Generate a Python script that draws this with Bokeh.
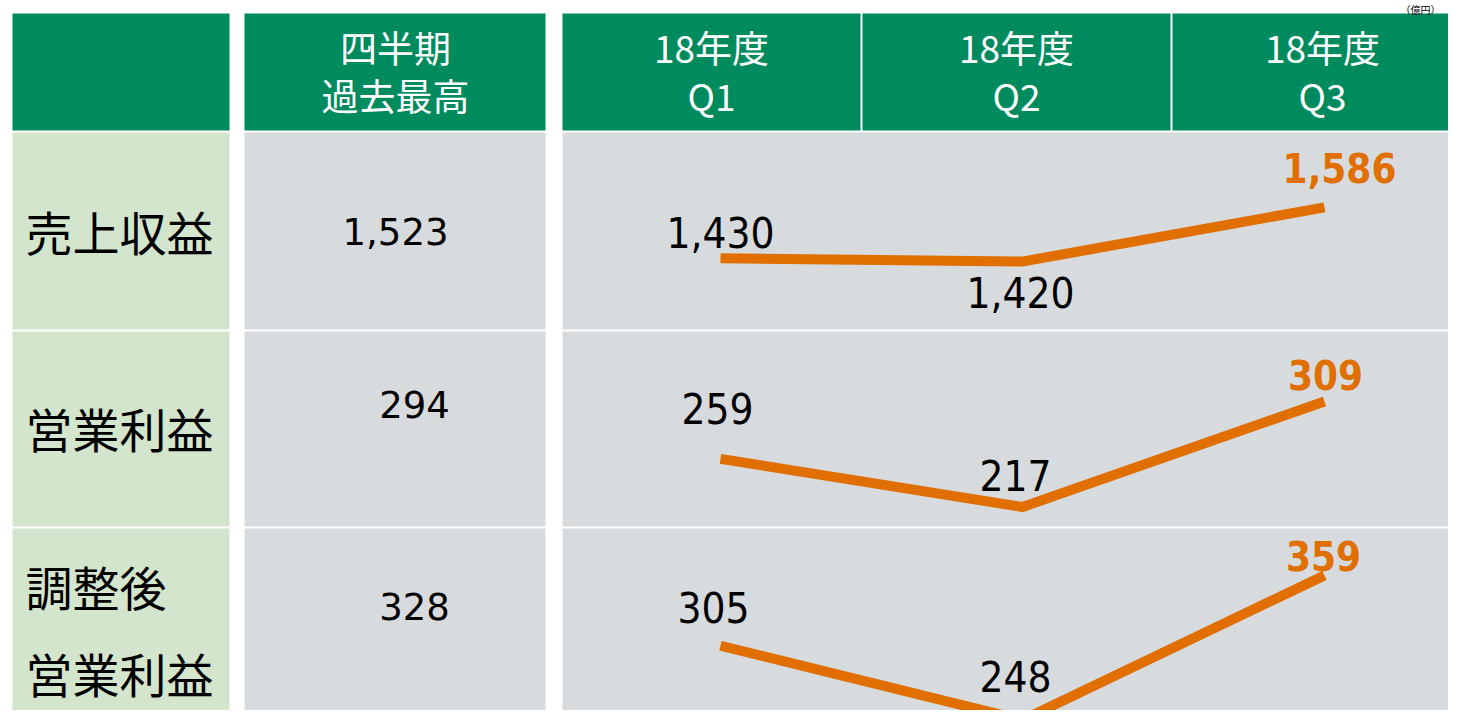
from bokeh.plotting import figure
from bokeh.models import Range1d, ColumnDataSource
from bokeh.core.properties import value
from bokeh.embed import file_html
from bokeh.resources import INLINE

# ---------------- data ----------------
unit_label = "（億円）"
record_header = ["四半期", "過去最高"]
fiscal_year = "18年度"
quarters = ["Q1", "Q2", "Q3"]
metrics = ["売上収益", "営業利益", "調整後\n営業利益"]
record_values = [1523, 294, 328]
revenue = [1430, 1420, 1586]
op_profit = [259, 217, 309]
adj_op_profit = [305, 248, 359]
series = [revenue, op_profit, adj_op_profit]
# value-axis limits of each row's mini line chart (bottom, top of the row)
row_axis = [(1212, 1815), (200, 370), (243, 395)]

# ---------------- style / layout ----------------
GREEN = "#008B5E"
LIGHT_GREEN = "#D3E5CD"
GRAY = "#D7DBDE"
ORANGE = "#E06F00"
JP = value("Noto Sans CJK JP")
NUM = value("DejaVu Sans")
NUM_C = value("DejaVu Sans Condensed")

W, H = 1448, 710
X0, Y0 = 0, 0

p = figure(width=W, height=H, x_range=Range1d(X0, X0 + W), y_range=Range1d(Y0 + H, Y0),
           output_backend="svg", toolbar_location=None, min_border=0,
           x_axis_location=None, y_axis_location=None)
p.grid.visible = False
p.outline_line_color = None
p.background_fill_color = "white"
p.border_fill_color = "white"

# column and row bands (pixels)
cols = [(12, 229), (244, 545), (562, 860), (862, 1170), (1172, 1464)]
header_band = (13, 130)
rows = [(132, 329), (331, 526), (528, 726)]

# header cells
p.quad(left=[c[0] for c in cols], right=[c[1] for c in cols],
       top=[header_band[0]] * len(cols), bottom=[header_band[1]] * len(cols),
       fill_color=GREEN, line_color=None)
# body cells
p.quad(left=[cols[0][0]] * 3, right=[cols[0][1]] * 3,
       top=[r[0] for r in rows], bottom=[r[1] for r in rows],
       fill_color=LIGHT_GREEN, line_color=None)
p.quad(left=[cols[1][0]] * 3, right=[cols[1][1]] * 3,
       top=[r[0] for r in rows], bottom=[r[1] for r in rows],
       fill_color=GRAY, line_color=None)
p.quad(left=[cols[2][0]] * 3, right=[cols[4][1]] * 3,
       top=[r[0] for r in rows], bottom=[r[1] for r in rows],
       fill_color=GRAY, line_color=None)

# header texts
hdr_x = [395, 711, 1016, 1322]
hdr_top = [record_header[0]] + [fiscal_year] * 3
hdr_bot = [record_header[1]] + quarters
p.text(x=hdr_x, y=[46] * 4, text=hdr_top, text_color="white", text_font=JP,
       text_font_size="37px", text_align="center", text_baseline="middle")
p.text(x=hdr_x, y=[94] * 4, text=hdr_bot, text_color="white", text_font=JP,
       text_font_size="37px", text_align="center", text_baseline="middle")

# metric labels (left column)
metric_line_y = [[230], [427], [585, 672]]
mx, my, mt = [], [], []
for name, ys in zip(metrics, metric_line_y):
    for line, yy in zip(name.split("\n"), ys):
        mx.append(25); my.append(yy); mt.append(line)
p.text(x=mx, y=my, text=mt, text_color="black", text_font=JP,
       text_font_size="47px", text_align="left", text_baseline="middle")

# record values (second column)
rec_pos = [(395, 231), (414, 404), (414, 606)]
p.text(x=[q[0] for q in rec_pos], y=[q[1] for q in rec_pos],
       text=[f"{v:,}" for v in record_values], text_color="black", text_font=NUM,
       text_font_size="37px", text_align="center", text_baseline="middle")

# ---------- line charts, one per row, each with its own value scale ----------
q_px, q_step = 720, 302   # pixel position of Q1 and spacing between quarters
qs = -(q_px - X0) / q_step
p.extra_x_ranges["q"] = Range1d(qs, qs + W / q_step)
qidx = list(range(len(quarters)))

label_offsets = [[(0, -26), (-2, 31), (15, -39)],
                 [(-3, -50), (-7, -32), (1, -26)],
                 [(-7, -38), (-7, -43), (-1, -19)]]

for i, (vals, (vmin, vmax), (T, B)) in enumerate(zip(series, row_axis, rows)):
    s = (vmax - vmin) / (B - T)
    name = f"r{i}"
    p.extra_y_ranges[name] = Range1d(vmin - (Y0 + H - B) * s, vmax + (T - Y0) * s)
    p.line(x=qidx, y=vals, x_range_name="q", y_range_name=name,
           line_width=10, line_color=ORANGE, line_join="miter", line_cap="butt")
    offs = label_offsets[i]
    src_n = ColumnDataSource(dict(x=qidx[:2], y=vals[:2], t=[f"{v:,}" for v in vals[:2]],
                                  dx=[o[0] for o in offs[:2]], dy=[o[1] for o in offs[:2]]))
    p.text(x="x", y="y", text="t", x_offset="dx", y_offset="dy", source=src_n,
           x_range_name="q", y_range_name=name, text_color="black", text_font=NUM_C,
           text_font_size="42px", text_align="center", text_baseline="middle")
    src_b = ColumnDataSource(dict(x=qidx[2:], y=vals[2:], t=[f"{v:,}" for v in vals[2:]],
                                  dx=[o[0] for o in offs[2:]], dy=[o[1] for o in offs[2:]]))
    p.text(x="x", y="y", text="t", x_offset="dx", y_offset="dy", source=src_b,
           x_range_name="q", y_range_name=name, text_color=ORANGE, text_font=NUM_C,
           text_font_style="bold", text_font_size="40px", text_align="center",
           text_baseline="middle")

# unit label (top right, above the header)
p.text(x=[1440], y=[1], text=[unit_label], text_color="black", text_font=JP,
       text_font_size="10px", text_align="right", text_baseline="top")

open("out.html", "w").write(file_html(p, INLINE))
